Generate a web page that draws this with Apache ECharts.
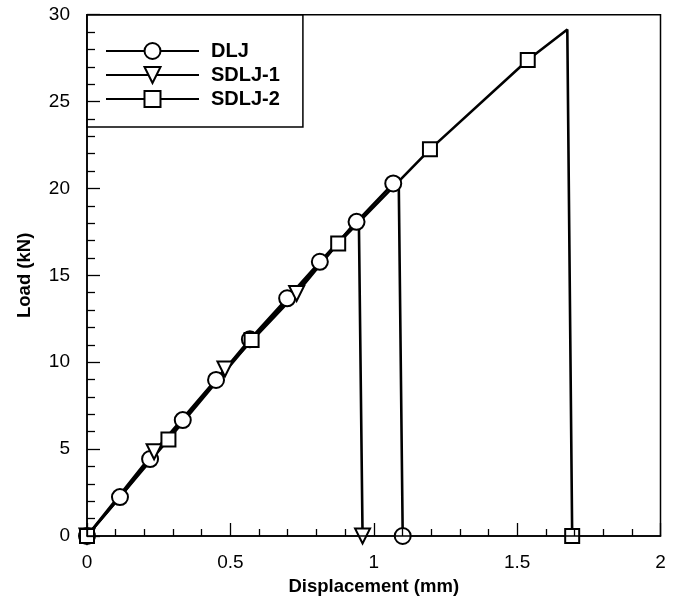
<!DOCTYPE html>
<html>
<head>
<meta charset="utf-8">
<script src="https://cdn.jsdelivr.net/npm/echarts@6/dist/echarts.min.js"></script>
<style>
html,body{margin:0;padding:0;background:#fff;}
#chart{width:677px;height:604px;}
</style>
</head>
<body>
<div id="chart"></div>
<script>
// Data
const seriesNames = ['DLJ', 'SDLJ-1', 'SDLJ-2'];
const dljX = [0, 0.115, 0.220, 0.334, 0.450, 0.568, 0.698, 0.812, 0.940, 1.068, 1.087, 1.101];
const dljY = [0, 2.24, 4.43, 6.67, 8.98, 11.32, 13.68, 15.78, 18.08, 20.29, 20.6, 0];
const sdlj1X = [0, 0.234, 0.481, 0.731, 0.948, 0.961];
const sdlj1Y = [0, 4.85, 9.61, 13.96, 18.3, 0];
const sdlj2X = [0, 0.284, 0.574, 0.876, 1.196, 1.537, 1.675, 1.692];
const sdlj2Y = [0, 5.56, 11.28, 16.84, 22.25, 27.39, 29.15, 0];
const xTicks = [0, 0.5, 1, 1.5, 2];
const yTicks = [0, 5, 10, 15, 20, 25, 30];

const FONT = '"Liberation Sans", Arial, sans-serif';

function build(xs, ys) {
  // the peak just before the drop (penultimate point) carries no marker
  return xs.map((x, i) => {
    const item = { value: [x, ys[i]] };
    if (i === xs.length - 2) item.symbol = 'none';
    return item;
  });
}

function makeSeries(name, xs, ys, symbol, size, rotate) {
  return {
    name: name,
    type: 'line',
    data: build(xs, ys),
    symbol: symbol,
    symbolSize: size,
    symbolRotate: rotate || 0,
    showAllSymbol: true,
    clip: false,
    z: 3,
    lineStyle: { color: '#000', width: 2.6 },
    itemStyle: { color: '#000', borderWidth: 2.2 },
    emphasis: { disabled: true },
    animation: false
  };
}

const chart = echarts.init(document.getElementById('chart'), null, { renderer: 'canvas' });
chart.setOption({
  animation: false,
  backgroundColor: '#fff',
  textStyle: { fontFamily: FONT },
  grid: {
    left: 87, right: 16.5, top: 14.7, bottom: 68,
    show: true, borderColor: '#000', borderWidth: 1.5, backgroundColor: 'transparent'
  },
  legend: {
    data: seriesNames,
    orient: 'vertical',
    left: 87, top: 15,
    padding: [26, 23, 18, 18],
    itemWidth: 93, itemHeight: 20, itemGap: 4,
    borderColor: '#000', borderWidth: 1.5,
    backgroundColor: '#fff',
    z: 4,
    textStyle: { fontFamily: FONT, fontSize: 20, fontWeight: 'bold', color: '#000', padding: [0, 0, 0, 7] },
    selectedMode: false
  },
  xAxis: {
    type: 'value', min: 0, max: 2, interval: 0.5,
    name: 'Displacement (mm)', nameLocation: 'middle', nameGap: 41,
    nameTextStyle: { fontFamily: FONT, fontSize: 18.5, fontWeight: 'bold', color: '#000' },
    z: 10,
    axisLine: { show: true, lineStyle: { color: '#000', width: 1.5 } },
    axisTick: { show: true, inside: true, length: 13, lineStyle: { color: '#000', width: 1.3 } },
    minorTick: { show: true, splitNumber: 5, length: 7, lineStyle: { color: '#000', width: 1.3 } },
    splitLine: { show: false },
    axisLabel: { fontFamily: FONT, fontSize: 19, color: '#000', margin: 17,
      formatter: v => xTicks.includes(v) ? String(v) : '' }
  },
  yAxis: {
    type: 'value', min: 0, max: 30, interval: 5,
    name: 'Load (kN)', nameLocation: 'middle', nameGap: 53, nameRotate: 90,
    nameTextStyle: { fontFamily: FONT, fontSize: 18.5, fontWeight: 'bold', color: '#000' },
    z: 10,
    axisLine: { show: true, lineStyle: { color: '#000', width: 1.5 } },
    axisTick: { show: true, inside: true, length: 13, lineStyle: { color: '#000', width: 1.3 } },
    minorTick: { show: true, splitNumber: 5, length: 8, lineStyle: { color: '#000', width: 1.3 } },
    splitLine: { show: false },
    axisLabel: { fontFamily: FONT, fontSize: 19, color: '#000', margin: 17,
      formatter: v => yTicks.includes(v) ? String(v) : '' }
  },
  series: [
    makeSeries(seriesNames[0], dljX, dljY, 'emptyCircle', 16),
    makeSeries(seriesNames[1], sdlj1X, sdlj1Y, 'emptyTriangle', 15, 180),
    makeSeries(seriesNames[2], sdlj2X, sdlj2Y, 'emptyRect', 14)
  ]
});
</script>
</body>
</html>
